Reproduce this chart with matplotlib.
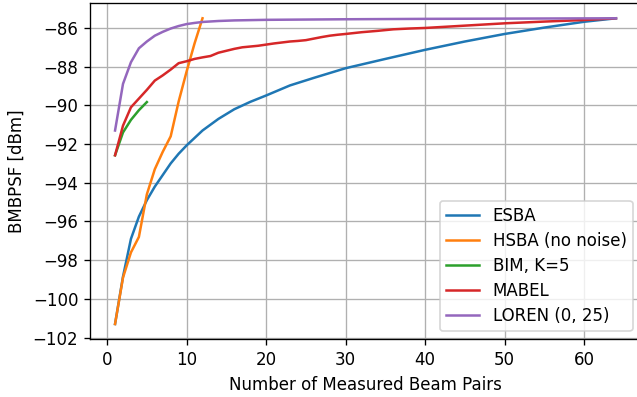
import matplotlib
matplotlib.use('Agg')
import matplotlib.pyplot as plt

# values
esba_x = [1, 2, 3, 4, 5, 6, 7, 8, 9, 10, 12, 14, 16, 18, 20, 23, 26, 30, 35, 40, 45, 50, 55, 60, 64]
esba_y = [-101.3, -98.85, -96.9, -95.75, -94.9, -94.2, -93.6, -93.0, -92.5, -92.07,
          -91.3, -90.7, -90.2, -89.82, -89.49, -88.97, -88.58, -88.08, -87.6, -87.13,
          -86.7, -86.31, -85.98, -85.68, -85.5]

hsba_x = [1, 2, 3, 4, 5, 6, 7, 8, 9, 10, 11, 12]
hsba_y = [-101.3, -98.9, -97.6, -96.8, -94.6, -93.3, -92.4, -91.6, -89.8, -88.25, -86.8, -85.5]

bim_x = [1, 2, 3, 4, 5]
bim_y = [-92.58, -91.4, -90.75, -90.25, -89.83]

mabel_x = [1, 2, 3, 4, 5, 6, 7, 8, 9, 10, 11, 12, 13, 14, 15, 16, 17, 18, 19, 20,
           21, 22, 23, 24, 25, 26, 27, 28, 29, 30, 32, 34, 36, 38, 40, 45, 50, 55, 60, 64]
mabel_y = [-92.58, -91.05, -90.1, -89.65, -89.2, -88.72, -88.45, -88.15, -87.82, -87.72,
           -87.6, -87.52, -87.45, -87.28, -87.18, -87.08, -87.0, -86.96, -86.92, -86.86,
           -86.8, -86.75, -86.7, -86.67, -86.63, -86.55, -86.47, -86.4, -86.35, -86.31,
           -86.22, -86.15, -86.07, -86.03, -86.0, -85.88, -85.76, -85.67, -85.59, -85.5]

loren_x = [1, 2, 3, 4, 5, 6, 7, 8, 9, 10, 11, 12, 14, 16, 20, 30, 40, 64]
loren_y = [-91.3, -88.89, -87.77, -87.05, -86.7, -86.4, -86.2, -86.03, -85.9, -85.8,
           -85.74, -85.69, -85.64, -85.61, -85.58, -85.55, -85.53, -85.5]

dpi = 120
fig = plt.figure(figsize=(637 / dpi, 397 / dpi), dpi=dpi)
# right spine falls just outside the picture, as in the reference
ax = fig.add_axes([90 / 637, 57.7 / 397, 551 / 637, 336.3 / 397])

ax.plot(esba_x, esba_y, label='ESBA')
ax.plot(hsba_x, hsba_y, label='HSBA (no noise)')
ax.plot(bim_x, bim_y, label='BIM, K=5')
ax.plot(mabel_x, mabel_y, label='MABEL')
ax.plot(loren_x, loren_y, label='LOREN (0, 25)')

ax.set_xlabel('Number of Measured Beam Pairs')
ax.set_ylabel('BMBPSF [dBm]')
ax.grid(True)
ax.legend(loc='lower right', labelspacing=0.42, borderpad=0.36)

fig.savefig('out.png', dpi=dpi)
